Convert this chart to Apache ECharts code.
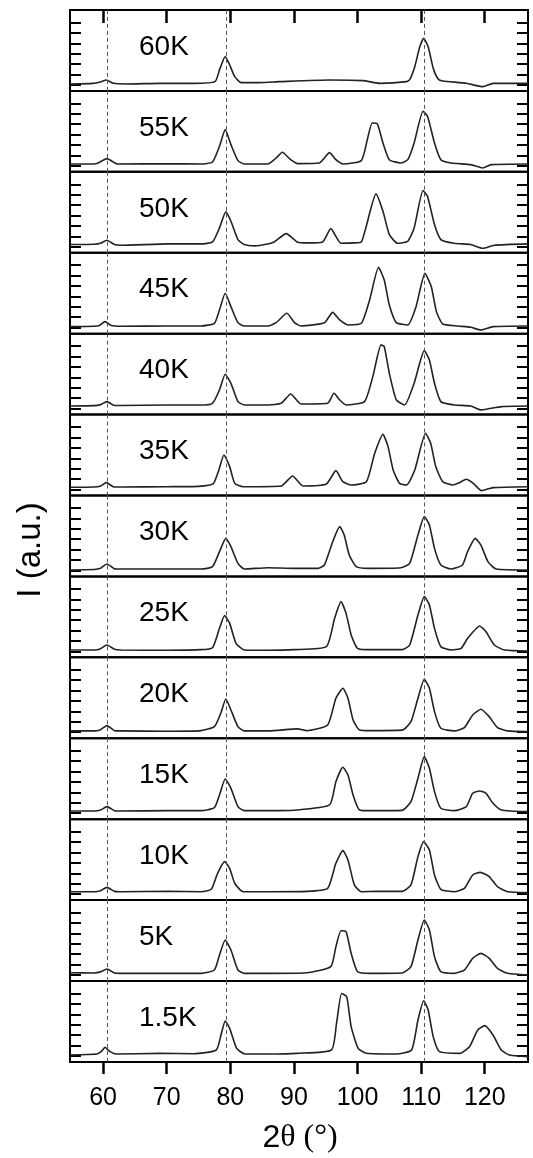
<!DOCTYPE html>
<html>
<head>
<meta charset="utf-8">
<script src="https://cdn.jsdelivr.net/npm/echarts@6/dist/echarts.min.js"></script>
<style>
html, body { margin: 0; padding: 0; background: #fff; }
#chart { width: 533px; height: 1158px; }
</style>
</head>
<body>
<div id="chart"></div>
<script>
// temperatures, top panel first
var temps = ['60K', '55K', '50K', '45K', '40K', '35K', '30K', '25K', '20K', '15K', '10K', '5K', '1.5K'];

// diffraction curves, [2theta, intensity]
var s60 = [[54.8,0.09],[58.4,0.15],[59.7,0.31],[60.5,0.47],[61.6,0.15],[63.7,0.09],[68.9,0.15],[74.2,0.15],[77.6,0.31],[78.3,1.44],[79.2,2.72],[79.9,1.92],[80.7,0.79],[81.7,0.22],[84.6,0.22],[87.8,0.31],[95.6,0.47],[100.9,0.41],[103.5,0.15],[107.7,0.31],[108.2,0.5],[109.0,1.75],[109.8,3.68],[110.4,4.48],[111.1,3.68],[111.9,1.6],[112.7,0.54],[113.4,0.38],[117.1,0.15],[119.7,-0.17],[121.3,0.15],[126.8,0.15]];
var s55 = [[54.8,0.18],[58.6,0.18],[59.2,0.27],[60.6,0.69],[62.3,0.18],[70.2,0.2],[75.4,0.18],[77.2,0.37],[78.3,1.88],[79.2,3.48],[80.1,2.04],[81.2,0.5],[82.2,0.18],[85.9,0.18],[87.2,0.75],[88.2,1.3],[89.3,0.69],[90.6,0.21],[94.0,0.27],[95.6,1.27],[96.6,0.59],[97.7,0.18],[100.6,0.5],[101.6,2.68],[102.3,4.12],[103.1,4.05],[104.0,2.2],[105.0,0.59],[106.8,0.27],[107.9,0.59],[108.9,2.2],[110.3,5.24],[111.0,4.76],[112.1,2.2],[113.1,0.59],[114.7,0.27],[117.8,0.11],[119.7,-0.21],[121.0,0.11],[126.8,0.18]];
var s50 = [[54.8,0.21],[58.6,0.24],[59.6,0.33],[60.6,0.62],[61.8,0.21],[62.8,0.14],[70.2,0.27],[75.4,0.27],[77.2,0.46],[78.3,1.81],[79.3,3.35],[80.1,2.45],[81.2,0.69],[82.2,0.21],[83.8,0.08],[85.9,0.27],[86.9,0.46],[88.8,1.26],[90.6,0.43],[92.2,0.37],[94.5,0.46],[95.8,1.74],[97.4,0.33],[99.5,0.37],[100.6,0.46],[101.3,1.81],[102.9,5.08],[104.0,3.41],[105.0,1.17],[106.3,0.33],[107.9,0.53],[108.9,1.81],[110.3,5.4],[111.0,4.85],[112.1,2.13],[113.1,0.69],[115.2,0.33],[117.8,0.21],[119.7,-0.15],[121.5,0.14],[126.8,0.27]];
var s45 = [[54.8,0.1],[58.6,0.13],[59.4,0.2],[60.3,0.58],[61.3,0.2],[62.8,0.13],[70.2,0.16],[75.4,0.16],[77.5,0.42],[78.3,1.7],[79.2,3.3],[80.1,2.02],[81.2,0.48],[82.2,0.16],[85.9,0.16],[87.2,0.48],[88.9,1.38],[90.1,0.48],[91.1,0.16],[94.8,0.48],[96.1,1.47],[97.2,0.74],[98.5,0.26],[100.6,0.42],[101.9,2.66],[103.3,5.8],[104.2,4.58],[105.0,2.18],[106.1,0.48],[107.9,0.26],[109.2,2.02],[110.6,5.22],[111.6,3.94],[112.4,1.54],[113.4,0.35],[115.8,0.16],[117.8,0.03],[119.4,-0.22],[121.3,0.1],[126.8,0.16]];
var s40 = [[54.8,0.25],[58.6,0.28],[59.6,0.38],[60.6,0.67],[61.8,0.3],[62.8,0.3],[70.2,0.35],[75.4,0.35],[77.2,0.51],[78.3,1.79],[79.2,3.3],[80.1,2.43],[81.2,0.67],[82.2,0.35],[86.0,0.35],[88.0,0.51],[89.5,1.4],[91.1,0.44],[95.3,0.51],[96.3,1.47],[97.2,0.83],[98.2,0.35],[101.1,0.67],[102.4,3.07],[103.7,6.12],[104.2,5.96],[105.0,3.39],[106.1,0.83],[107.4,0.35],[108.9,2.43],[110.5,5.57],[111.3,4.67],[112.1,2.43],[113.1,0.67],[115.2,0.35],[117.8,0.25],[119.4,-0.13],[122.6,0.19],[126.8,0.25]];
var s35 = [[54.8,0.21],[58.6,0.24],[59.6,0.34],[60.5,0.66],[61.6,0.27],[63.0,0.24],[70.0,0.27],[75.0,0.3],[77.3,0.53],[78.2,1.88],[79.0,3.32],[79.9,2.2],[80.7,0.59],[82.0,0.27],[88.0,0.34],[89.8,1.3],[91.4,0.34],[95.1,0.53],[96.6,1.81],[97.7,0.75],[99.0,0.43],[101.4,0.75],[102.7,3.48],[104.0,5.3],[104.8,4.12],[105.6,1.88],[106.6,0.59],[107.7,0.43],[109.0,1.88],[110.7,5.4],[111.5,4.44],[112.3,2.2],[113.4,0.75],[115.0,0.43],[115.8,0.59],[117.1,0.98],[118.2,0.59],[119.5,-0.11],[121.3,0.18],[126.8,0.27]];
var s30 = [[54.8,0.04],[58.6,0.08],[59.6,0.2],[60.6,0.62],[61.8,0.15],[62.8,0.13],[70.2,0.13],[75.4,0.13],[77.2,0.36],[78.3,1.8],[79.3,3.08],[80.1,2.28],[81.2,0.68],[82.2,0.13],[85.9,0.26],[90.0,0.2],[93.8,0.2],[94.8,0.52],[96.1,2.76],[97.2,4.21],[97.9,3.4],[98.7,1.48],[99.8,0.36],[101.6,0.2],[106.8,0.26],[108.2,0.68],[109.5,3.4],[110.5,5.17],[111.3,4.37],[112.1,2.12],[113.1,0.52],[114.7,0.13],[116.5,0.52],[117.3,1.8],[118.5,3.08],[119.4,2.44],[120.5,0.84],[121.8,0.13],[126.8,0.04]];
var s25 = [[54.8,0.13],[58.6,0.13],[59.6,0.25],[60.6,0.61],[61.8,0.2],[62.8,0.13],[70.2,0.1],[75.4,0.16],[77.2,0.35],[78.3,2.21],[79.1,3.43],[79.9,2.69],[80.9,0.77],[82.2,0.13],[86.0,0.1],[90.0,0.16],[95.1,0.45],[96.4,3.17],[97.4,4.78],[98.2,3.65],[99.0,1.57],[100.0,0.29],[102.0,0.16],[107.0,0.16],[108.2,0.61],[109.5,3.49],[110.5,5.26],[111.3,4.46],[112.1,2.21],[113.1,0.45],[114.7,0.13],[116.3,0.29],[117.3,1.25],[119.2,2.44],[120.2,1.89],[121.5,0.61],[123.1,0.13],[126.8,0.03]];
var s20 = [[54.8,0.13],[58.6,0.13],[59.6,0.25],[60.6,0.64],[61.8,0.15],[62.8,0.13],[70.2,0.1],[75.4,0.16],[77.5,0.54],[78.5,1.82],[79.3,3.2],[80.1,2.14],[81.2,0.54],[82.2,0.13],[86.0,0.13],[90.6,0.32],[92.0,0.16],[95.3,0.7],[96.6,3.27],[97.7,4.23],[98.5,3.27],[99.3,1.18],[100.3,0.22],[102.0,0.16],[107.0,0.2],[108.4,1.02],[109.5,3.27],[110.5,5.09],[111.3,4.23],[112.1,1.98],[113.1,0.38],[115.2,0.13],[116.8,0.45],[118.1,1.66],[119.4,2.21],[120.7,1.5],[122.0,0.45],[123.6,0.13],[126.8,0.06]];
var s15 = [[54.8,0.21],[58.6,0.21],[59.6,0.3],[60.6,0.63],[61.8,0.24],[62.8,0.21],[70.2,0.24],[75.4,0.24],[77.5,0.53],[78.3,1.75],[79.2,3.29],[80.1,2.39],[81.2,0.63],[82.2,0.24],[86.0,0.24],[90.0,0.28],[95.6,0.79],[96.6,3.03],[97.7,4.41],[98.5,3.67],[99.3,1.75],[100.3,0.31],[102.0,0.24],[107.0,0.27],[108.4,1.11],[109.5,3.35],[110.5,5.44],[111.3,4.31],[112.1,2.07],[113.1,0.47],[115.2,0.24],[117.1,0.63],[118.1,1.91],[119.2,2.13],[120.2,1.91],[121.3,0.95],[122.6,0.31],[126.8,0.15]];
var s10 = [[54.8,0.23],[58.6,0.23],[59.6,0.33],[60.6,0.65],[61.8,0.26],[62.8,0.23],[70.2,0.26],[75.4,0.23],[77.0,0.46],[78.0,2.0],[79.1,3.12],[79.9,2.48],[80.7,1.04],[82.0,0.23],[86.0,0.23],[92.0,0.26],[95.3,0.55],[96.6,2.96],[97.7,4.18],[98.5,3.28],[99.5,0.88],[100.6,0.23],[103.0,0.26],[107.0,0.26],[108.4,0.88],[109.5,3.6],[110.4,5.04],[111.3,4.24],[112.1,1.84],[113.1,0.46],[115.2,0.23],[116.8,0.55],[118.1,1.84],[119.3,2.09],[120.7,1.68],[122.0,0.71],[123.6,0.23],[126.8,0.14]];
var s5 = [[54.8,0.22],[58.6,0.2],[59.6,0.3],[60.6,0.58],[61.8,0.19],[62.8,0.16],[70.2,0.16],[75.4,0.16],[77.5,0.48],[78.3,1.92],[79.2,3.37],[80.1,2.4],[81.2,0.48],[82.2,0.16],[86.0,0.16],[92.0,0.22],[95.8,0.8],[96.6,2.72],[97.4,4.26],[98.2,4.17],[99.0,2.08],[100.0,0.32],[102.0,0.16],[107.0,0.2],[108.4,0.8],[109.5,3.37],[110.5,5.29],[111.3,4.33],[112.1,1.76],[113.1,0.32],[115.2,0.16],[116.8,0.48],[118.1,1.6],[119.4,2.08],[120.7,1.6],[122.0,0.64],[123.6,0.16],[126.8,0.0]];
var s1p5 = [[54.8,0.09],[59.0,0.18],[59.7,0.41],[60.3,0.82],[61.1,0.41],[62.1,0.18],[68.9,0.25],[74.2,0.21],[77.8,0.57],[78.6,2.17],[79.2,3.36],[79.9,2.65],[81.0,0.73],[82.3,0.18],[87.2,0.18],[90.4,0.25],[95.9,0.57],[96.7,3.13],[97.5,6.0],[98.3,5.7],[99.0,2.81],[100.1,0.73],[101.4,0.25],[106.1,0.18],[108.5,0.57],[109.5,3.45],[110.4,5.31],[111.1,4.41],[111.9,1.85],[112.9,0.41],[116.1,0.25],[117.6,0.89],[118.9,2.49],[120.0,2.91],[121.3,2.01],[122.6,0.57],[123.9,0.09],[126.8,-0.07]];

var curves = [s60, s55, s50, s45, s40, s35, s30, s25, s20, s15, s10, s5, s1p5];

var xTicks = [60, 70, 80, 90, 100, 110, 120];
var yTicks = [0, 1, 2, 3, 4, 5, 6];
var refLines = [60.6, 79.4, 110.55];

var chart = echarts.init(document.getElementById('chart'));

var panelTop = 10;
var panelH = 80.92;
var n = temps.length;

var grids = [], xAxes = [], yAxes = [], series = [], texts = [];

for (var i = 0; i < n; i++) {
    var panelY = panelTop + i * panelH;
    grids.push({
        left: 70, right: 5, top: panelY, height: panelH,
        show: true, borderColor: '#000', borderWidth: 2
    });

    var xa = {
        type: 'value', gridIndex: i, min: 54.8, max: 126.8,
        axisLine: {show: false, onZero: false},
        splitLine: {show: false},
        axisTick: {show: false},
        axisLabel: {show: false}
    };
    if (i === 0) {
        xa.position = 'top';
        xa.axisTick = {show: true, inside: true, length: 13, customValues: xTicks,
            lineStyle: {color: '#000', width: 2.5}};
    }
    if (i === n - 1) {
        xa.position = 'bottom';
        xa.axisTick = {show: true, inside: false, length: 12, customValues: xTicks,
            lineStyle: {color: '#000', width: 2.5}};
        xa.axisLabel = {show: true, customValues: xTicks, margin: 24,
            color: '#000', fontSize: 25, fontFamily: 'Liberation Sans'};
    }
    xAxes.push(xa);

    ['left', 'right'].forEach(function (pos) {
        yAxes.push({
            type: 'value', gridIndex: i, position: pos, min: -0.58, max: 7.2,
            axisLine: {show: false, onZero: false},
            splitLine: {show: false},
            axisLabel: {show: false},
            axisTick: {show: true, inside: true, length: 11, customValues: yTicks,
                lineStyle: {color: '#000', width: 2}}
        });
    });

    series.push({
        type: 'line',
        xAxisIndex: i,
        yAxisIndex: 2 * i,
        data: curves[i],
        showSymbol: false,
        smooth: 0.18,
        lineStyle: {color: '#222', width: 1.6},
        markLine: {
            silent: true,
            symbol: ['none', 'none'],
            label: {show: false},
            lineStyle: {color: '#555', type: [4, 3], width: 1},
            data: refLines.map(function (v) { return {xAxis: v}; })
        }
    });

    texts.push({
        type: 'text', x: 139, y: panelY + 37,
        style: {text: temps[i], font: '28px "Liberation Sans"', fill: '#000',
            textAlign: 'left', textVerticalAlign: 'middle'}
    });
}

// axis titles
texts.push({
    type: 'text', x: 31, y: 550, rotation: Math.PI / 2,
    style: {text: 'I (a.u.)', font: '33px "Liberation Sans"', fill: '#000',
        textAlign: 'center', textVerticalAlign: 'middle'}
});
texts.push({
    type: 'text', x: 300, y: 1138,
    style: {
        text: '{a|2}{b|θ (°)}',
        textAlign: 'center', textVerticalAlign: 'middle',
        rich: {
            a: {font: '32px "Liberation Sans"', fill: '#000'},
            b: {font: '32px "Liberation Serif"', fill: '#000'}
        }
    }
});

chart.setOption({
    animation: false,
    grid: grids,
    xAxis: xAxes,
    yAxis: yAxes,
    series: series,
    graphic: texts
});
</script>
</body>
</html>
